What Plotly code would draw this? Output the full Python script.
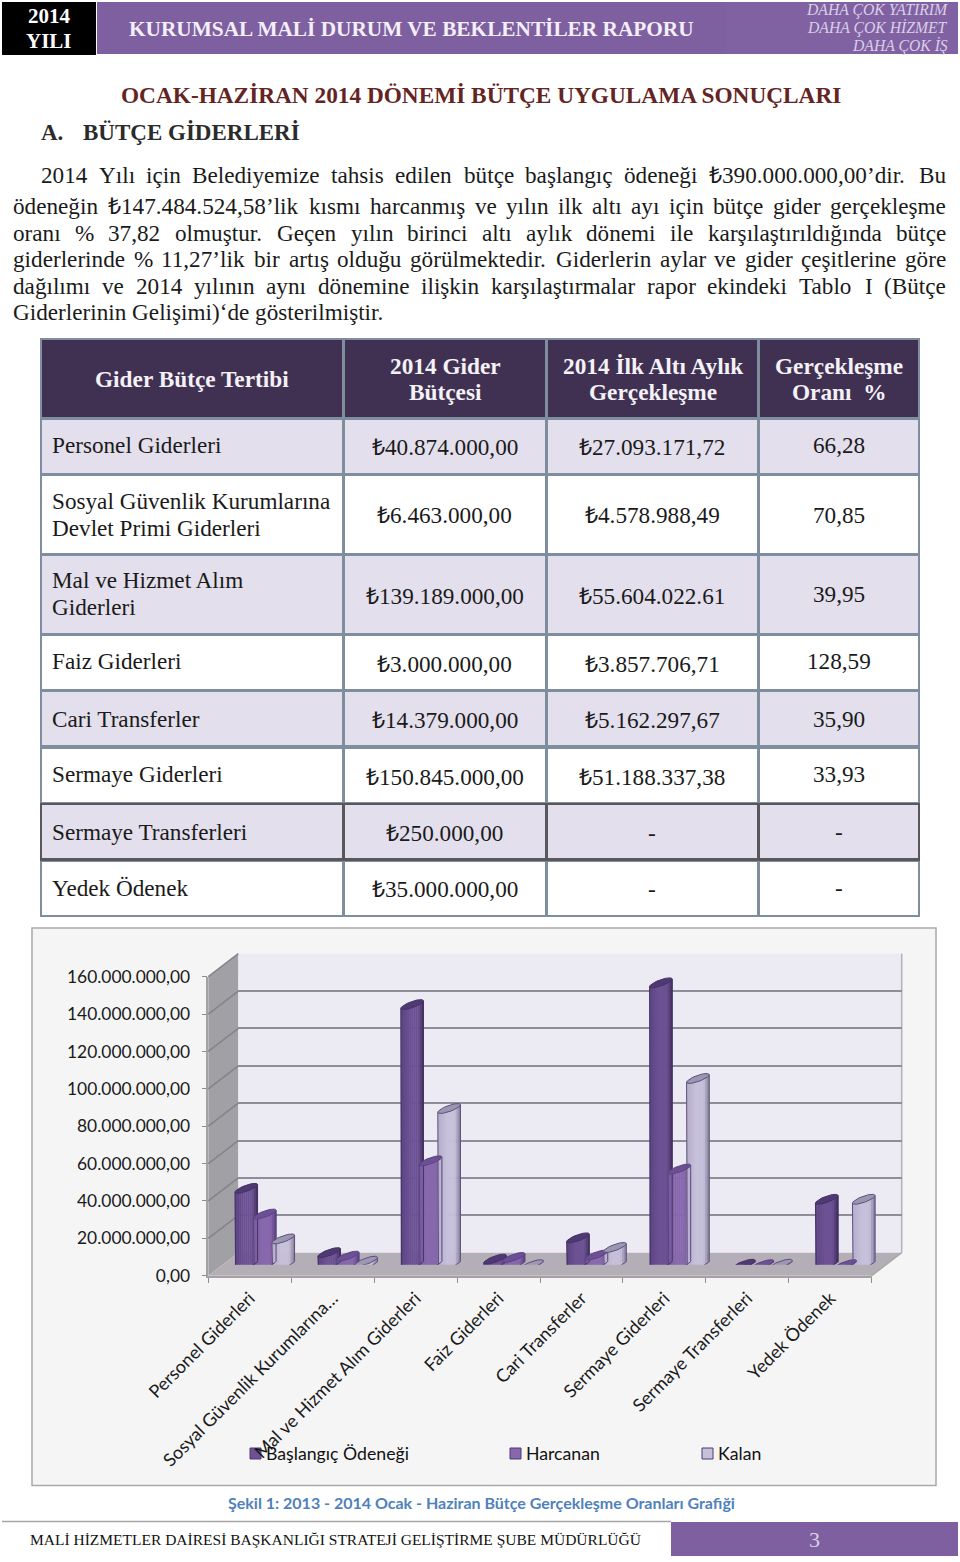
import math
import plotly.graph_objects as go

# ---------- chart data ----------
categories = ["Personel Giderleri", "Sosyal Güvenlik Kurumlarına…", "Mal ve Hizmet Alım Giderleri",
              "Faiz Giderleri", "Cari Transferler", "Sermaye Giderleri", "Sermaye Transferleri", "Yedek Ödenek"]
baslangic = [40874000, 6463000, 139189000, 3000000, 14379000, 150845000, 250000, 35000000]
harcanan = [27093172, 4578988, 55604023, 3857707, 5162298, 51188337, 0, 0]
kalan = [13780828, 1884012, 83584977, 0, 9216702, 99656663, 250000, 35000000]
series_names = ["Başlangıç Ödeneği", "Harcanan", "Kalan"]
y_ticks = [0, 20000000, 40000000, 60000000, 80000000, 100000000, 120000000, 140000000, 160000000]
y_tick_text = ["0,00", "20.000.000,00", "40.000.000,00", "60.000.000,00", "80.000.000,00",
               "100.000.000,00", "120.000.000,00", "140.000.000,00", "160.000.000,00"]

# ---------- table data ----------
table_header = [["Gider Bütçe Tertibi"], ["2014 Gider", "Bütçesi"], ["2014 İlk Altı Aylık", "Gerçekleşme"],
                ["Gerçekleşme", "Oranı  %"]]
row_names = [["Personel Giderleri"], ["Sosyal Güvenlik Kurumlarına", "Devlet Primi Giderleri"],
             ["Mal ve Hizmet Alım", "Giderleri"], ["Faiz Giderleri"], ["Cari Transferler"], ["Sermaye Giderleri"],
             ["Sermaye Transferleri"], ["Yedek Ödenek"]]
col_budget = ["₺40.874.000,00", "₺6.463.000,00", "₺139.189.000,00", "₺3.000.000,00", "₺14.379.000,00",
              "₺150.845.000,00", "₺250.000,00", "₺35.000.000,00"]
col_actual = ["₺27.093.171,72", "₺4.578.988,49", "₺55.604.022.61", "₺3.857.706,71", "₺5.162.297,67",
              "₺51.188.337,38", "-", "-"]
col_rate = ["66,28", "70,85", "39,95", "128,59", "35,90", "33,93", "-", "-"]

paragraph = [
    ("2014 Yılı için Belediyemize tahsis edilen bütçe başlangıç ödeneği ₺390.000.000,00’dir. Bu", 41, 946, 175),
    ("ödeneğin ₺147.484.524,58’lik kısmı harcanmış ve yılın ilk altı ayı için bütçe gider gerçekleşme", 13, 946, 206),
    ("oranı % 37,82 olmuştur. Geçen yılın birinci altı aylık dönemi ile karşılaştırıldığında bütçe", 13, 946, 233),
    ("giderlerinde % 11,27’lik bir artış olduğu görülmektedir. Giderlerin aylar ve gider çeşitlerine göre", 13, 946, 259),
    ("dağılımı ve 2014 yılının aynı dönemine ilişkin karşılaştırmalar rapor ekindeki Tablo I (Bütçe", 13, 946, 286),
]
last_line = "Giderlerinin Gelişimi)‘de gösterilmiştir."

# ---------- layout constants ----------
W, H = 960, 1562
SERIF = "Liberation Serif"
SANS = "Lato"
AX_L, AX_R, AX_B, AX_T = 208.3, 871.7, 1275.7, 976.7
DX, DY = 30, 23
CAT_PX = (AX_R - AX_L) / 8
VAL_PER_PX = 160e6 / (AX_B - AX_T)


def px(x):
    return x / W


def py(y):
    return 1 - y / H


shapes, notes = [], []


def rect(x0, y0, x1, y1, fill, line=None, lw=0):
    shapes.append(dict(type="rect", xref="paper", yref="paper", x0=px(x0), x1=px(x1), y0=py(y0), y1=py(y1),
                       fillcolor=fill, line=dict(color=line or fill, width=lw), layer="below"))


def poly(points, fill):
    d = "M" + " L".join(f"{px(a):.5f},{py(b):.5f}" for a, b in points) + " Z"
    shapes.append(dict(type="path", xref="paper", yref="paper", path=d, fillcolor=fill,
                       line=dict(width=0), layer="below"))


def seg(x0, y0, x1, y1, color, lw):
    shapes.append(dict(type="line", xref="paper", yref="paper", x0=px(x0), x1=px(x1), y0=py(y0), y1=py(y1),
                       line=dict(color=color, width=lw), layer="below"))


def text(x, y, s, size, color="#1a1a1a", family=SERIF, anchor="center", bold=False, italic=False):
    if bold:
        s = f"<b>{s}</b>"
    if italic:
        s = f"<i>{s}</i>"
    notes.append(dict(xref="paper", yref="paper", x=px(x), y=py(y), text=s, showarrow=False, xanchor=anchor,
                      yanchor="middle", borderpad=0, borderwidth=0, font=dict(family=family, size=size, color=color)))


TIMES = dict(zip("abcdefghijklmnopqrstuvwxyz",
                 [444, 500, 444, 500, 444, 333, 500, 500, 278, 278, 500, 278, 778, 500, 500, 500, 500, 333, 389, 278,
                  500, 500, 722, 500, 500, 444]))
TIMES.update(dict(zip("ABCDEFGHIJKLMNOPQRSTUVWXYZ",
                      [722, 667, 667, 722, 611, 556, 722, 722, 333, 389, 722, 611, 889, 722, 722, 556, 722, 667, 556,
                       611, 722, 722, 944, 722, 722, 611])))
TIMES.update({c: 500 for c in "0123456789"})
TIMES.update({".": 250, ",": 250, "’": 333, "‘": 333, "%": 833, "(": 333, ")": 333, "₺": 620,
              "ı": 278, "ş": 389, "ğ": 500, "ç": 444, "ö": 500, "ü": 500, "İ": 333, "Ş": 556})


def tw(s, size):
    return sum(TIMES.get(c, 500) for c in s) * size / 1000


BODY = 23.2
for line, x0, x1, y in paragraph:
    words = line.split(" ")
    gap = (x1 - x0 - sum(tw(w, BODY) for w in words)) / (len(words) - 1)
    cur = x0
    for w in words:
        text(cur, y, w, BODY, anchor="left")
        cur += tw(w, BODY) + gap
text(13, 312, last_line, BODY, anchor="left")

# ---------- page header ----------
rect(2, 2, 96, 55, "#000000")
rect(97, 2, 958, 54, "#7e5fa0")
rect(727, 2, 958, 54, "#8062a3")
text(49, 16, "2014", 21, "#ffffff", bold=True)
text(49, 41, "YILI", 21, "#ffffff", bold=True)
text(129, 29, "KURUMSAL MALİ DURUM VE BEKLENTİLER RAPORU", 21.3, "#f3eef8", anchor="left", bold=True)
for s, y in [("DAHA ÇOK YATIRIM", 10), ("DAHA ÇOK HİZMET", 28), ("DAHA ÇOK İŞ", 46)]:
    text(948, y, s, 15.7, "#d9cfe6", anchor="right", italic=True)
text(480.5, 95, "OCAK-HAZİRAN 2014 DÖNEMİ BÜTÇE UYGULAMA SONUÇLARI", 23.3, "#632423", bold=True)
text(41, 133, "A.", 23, "#2b2b2b", anchor="left", bold=True)
text(83, 133, "BÜTÇE GİDERLERİ", 23, "#2b2b2b", anchor="left", bold=True)

# ---------- table ----------
col_x = [(42, 342), (345, 545), (548, 757), (760, 918)]
row_y = [(420, 473), (476, 553), (556, 633), (636, 689), (692, 745), (749, 802), (805, 858), (862, 915)]
rect(40, 338, 920, 917, "#7f8e9f")
rect(40, 803, 920, 861, "#58585c")
for a, b in col_x:
    rect(a, 340, b, 417, "#403152")
for r, (t, b) in enumerate(row_y):
    for a, c in col_x:
        rect(a, t, c, b, "#e3dfec" if r % 2 == 0 else "#ffffff")

for (a, b), lines, ys in zip(col_x, table_header, [[379], [366, 392], [366, 392], [366, 392]]):
    for s, y in zip(lines, ys):
        text((a + b) / 2, y, s, 23.3, "#f4f2f7", bold=True)
name_y = [[446], [501, 528], [581, 608], [662], [719], [775], [832], [888]]
vals_y = [448, 516, 596, 664, 720, 777, 833, 889]
rate_y = [446, 515, 594, 662, 719, 775, 832, 888]
for i in range(8):
    for s, y in zip(row_names[i], name_y[i]):
        text(51.5, y - 0.5, s, 23.2, anchor="left")
    text(444.5, vals_y[i] - 0.5, col_budget[i], 23.2)
    text(652, vals_y[i] - 0.5, col_actual[i], 23.2)
    text(838.5, rate_y[i] - 0.5, col_rate[i], 23.2)

# ---------- chart frame, walls, floor ----------
rect(32, 928, 936, 1485.5, "#f5f5f6", "#a9a9ab", 1.5)
poly([(AX_L, AX_T), (AX_L + DX, AX_T - DY), (AX_L + DX, AX_B - DY), (AX_L, AX_B)], "#a1a1a5")
rect(AX_L + DX, AX_T - DY, AX_R + DX, AX_B - DY, "#eceaf2")
poly([(AX_L, AX_B), (AX_R, AX_B), (AX_R + DX, AX_B - DY), (AX_L + DX, AX_B - DY)], "#b4afb7")
for v in y_ticks[1:]:
    yy = AX_B - v / VAL_PER_PX
    seg(AX_L, yy, AX_L + DX, yy - DY, "#838388", 1.5)
seg(AX_R, AX_B, AX_R + DX, AX_B - DY, "#a9a9ab", 1.5)
seg(AX_R + DX, AX_T - DY, AX_R + DX, AX_B - DY, "#b4b4b8", 1.5)

# ---------- cylinders, drawn through the third axis pair ----------
A_PX, K_PX, B_PX = 11.3, 3.8, 3.2
STEP_PX = 18.5
BASE_DY = 11
N = 11
stops = [(("#5c4382", "#6c5294", "#3f2a5c"), "#4e3975", "#453263"),
         (("#7a5da0", "#8768ad", "#5a4080"), "#6c4f94", "#5a4480"),
         (("#b4adcb", "#c6c0da", "#827b97"), "#9d96b3", "#5b5079")]


def hexrgb(h):
    return [int(h[i:i + 2], 16) for i in (1, 3, 5)]


def mix(c0, c1, t):
    a, b = hexrgb(c0), hexrgb(c1)
    return "rgb(%d,%d,%d)" % tuple(round(a[i] + (b[i] - a[i]) * t) for i in range(3))


def shade(left, mid, right, u):
    if u < -0.2:
        return mix(left, mid, (u + 1) / 0.8)
    if u < 0.5:
        return mix(mid, mid, 0)
    return mix(mid, right, (u - 0.5) / 0.5)


traces = []
a = A_PX / CAT_PX
idx = list(range(8))
for s, (name, values) in enumerate(zip(series_names, [baslangic, harcanan, kalan])):
    (left, mid, right), cap, edge = stops[s]
    off = (s - 1) * STEP_PX / CAT_PX
    w = 2 * a / N
    for j in range(N):
        u = -1 + 2 * (j + 0.5) / N
        lower = (K_PX * u - B_PX * math.sqrt(1 - u * u)) * VAL_PER_PX
        top = [v + K_PX * u * VAL_PER_PX for v in values]
        traces.append(go.Bar(x=idx, y=[t - lower for t in top], base=[lower] * 8,
                             offset=off + u * a - w / 2, width=w * 1.2,
                             marker=dict(color=shade(left, mid, right, u), line=dict(width=0)),
                             name=name, showlegend=False, hoverinfo="skip", cliponaxis=False,
                             xaxis="x3", yaxis="y3"))
    ex, ey, cx, cy = [], [], [], []
    for i, v in enumerate(values):
        cen = i + off
        ts = [k * math.pi / 18 for k in range(37)]
        ex += [cen - a] + [cen - a * math.cos(t) for t in ts[:19]] + [cen + a, None]
        low = [(K_PX * (-math.cos(t)) - B_PX * math.sin(t)) * VAL_PER_PX for t in ts[:19]]
        ey += [v - K_PX * VAL_PER_PX] + low + [v + K_PX * VAL_PER_PX, None]
        cx += [cen + a * math.cos(t) for t in ts] + [None]
        cy += [v + (K_PX * math.cos(t) + B_PX * math.sin(t)) * VAL_PER_PX for t in ts] + [None]
    traces.append(go.Scatter(x=ex, y=ey, mode="lines", line=dict(color=edge, width=1), showlegend=False,
                             hoverinfo="skip", cliponaxis=False, xaxis="x3", yaxis="y3"))
    traces.append(go.Scatter(x=cx, y=cy, mode="lines", line=dict(color=edge, width=1), fill="toself", fillcolor=cap,
                             showlegend=False, hoverinfo="skip", cliponaxis=False, xaxis="x3", yaxis="y3"))

fig = go.Figure()
# empty traces keep the wall and front axis subplots alive, below the cylinders
fig.add_trace(go.Scatter(x=[None], y=[None], xaxis="x", yaxis="y", showlegend=False, hoverinfo="skip"))
fig.add_trace(go.Scatter(x=[None], y=[None], xaxis="x2", yaxis="y2", showlegend=False, hoverinfo="skip"))
fig.add_traces(traces)

# ---------- legend, caption, footer ----------
for (sq, name, stop) in zip([250, 510, 702], series_names, stops):
    rect(sq, 1448, sq + 11, 1459, stop[0][1], "#4e3975", 1)
    text(sq + 16, 1453.5, name, 17.7, "#111111", SANS, "left")
text(481.5, 1502, "Şekil 1: 2013 - 2014 Ocak - Haziran Bütçe Gerçekleşme Oranları Grafiği", 16, "#4f81bd", SANS, bold=True)
seg(2, 1521.5, 671, 1521.5, "#a6a6a6", 1.5)
rect(671, 1522, 958, 1556, "#7e5fa0")
text(814, 1539, "3", 22, "#d9cfe6")
text(30, 1539, "MALİ HİZMETLER DAİRESİ BAŞKANLIĞI STRATEJİ GELİŞTİRME ŞUBE MÜDÜRLÜĞÜ", 15.5, "#111111", anchor="left")

x_range = [-0.5, 7.5]
y_range = [0, 160e6]
fig.update_layout(
    width=W, height=H, margin=dict(l=0, r=0, t=0, b=0, autoexpand=False), paper_bgcolor="#ffffff",
    plot_bgcolor="rgba(0,0,0,0)",
    showlegend=False, barmode="overlay", shapes=shapes, annotations=notes,
    xaxis=dict(domain=[px(AX_L + DX), px(AX_R + DX)], range=x_range, visible=False, anchor="y"),
    yaxis=dict(domain=[py(AX_B - DY), py(AX_T - DY)], range=y_range, anchor="x", tickvals=y_ticks, showticklabels=False,
               ticks="", showgrid=True, gridcolor="#918c99", gridwidth=2, zeroline=False, showline=False),
    xaxis2=dict(domain=[px(AX_L), px(AX_R)], range=x_range, anchor="y2", tickmode="array", tickvals=idx,
                ticktext=categories, tickangle=-45, ticks="", showgrid=False, zeroline=False,
                showline=True, linecolor="#a3a3a6", linewidth=2, ticklabelstandoff=3,
                tickfont=dict(family=SANS, size=18, color="#1a1a1a"),
                minor=dict(tickmode="array", tickvals=[i - 0.5 for i in range(9)], ticks="outside", ticklen=5,
                           tickcolor="#8d8d90", tickwidth=1, showgrid=False)),
    yaxis2=dict(domain=[py(AX_B), py(AX_T)], range=y_range, anchor="x2", tickmode="array", tickvals=y_ticks,
                ticktext=y_tick_text, ticks="outside", ticklen=5, tickcolor="#8d8d90", showgrid=False, zeroline=False,
                showline=True, linecolor="#a3a3a6", linewidth=1.5, ticklabelstandoff=8,
                tickfont=dict(family=SANS, size=17.4, color="#1a1a1a")),
    xaxis3=dict(domain=[px(AX_L + DX / 2), px(AX_R + DX / 2)], range=x_range, visible=False, anchor="y3"),
    yaxis3=dict(domain=[py(AX_B - BASE_DY), py(AX_T - BASE_DY)], range=y_range, visible=False, anchor="x3"),
)

fig.write_html("out.html", config={"displayModeBar": False},
               post_script="document.body.style.margin='0';document.body.style.overflow='hidden';")
